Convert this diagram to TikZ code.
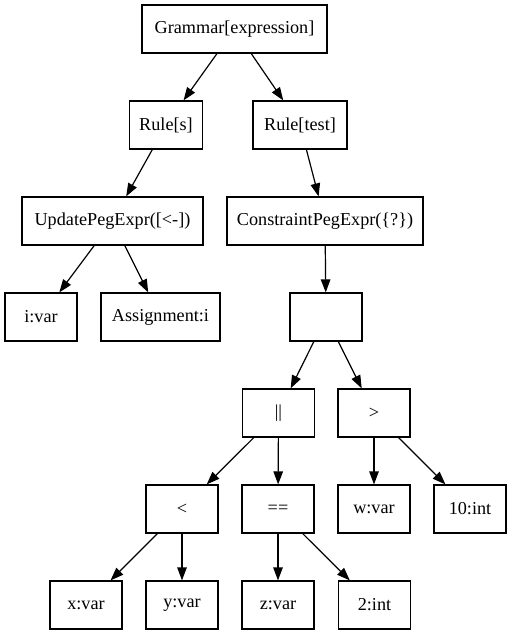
\documentclass[tikz,border=0pt]{standalone}
\usepackage{fontspec}
\setmainfont{Liberation Serif}
\usepackage{tikz}
\usetikzlibrary{arrows.meta,positioning,calc}

\tikzset{
  tnode/.style={draw,line width=1.2pt,rectangle,minimum width=72pt,minimum height=48pt,inner xsep=10pt,
    font=\fontsize{18.2}{20}\selectfont},
  tedge/.style={line width=1.2pt,-{Triangle[length=13pt,width=9.5pt]}}
}

\begin{document}
\begin{tikzpicture}[x=1pt,y=-1pt]
\useasboundingbox (0,0) rectangle (512,635);
% top rows
\node[tnode,minimum width=185pt] (gram) at (234.5,29) {Grammar[expression]};
\node[tnode] (rules) at (166,125) {Rule[s]};
\node[tnode,minimum width=94pt] (ruletest) at (300,125) {Rule[test]};
\node[tnode,minimum width=181pt] (update) at (112.5,221) {UpdatePegExpr([<-])};
\node[tnode,minimum width=194pt] (constraint) at (325,221) {ConstraintPegExpr(\{?\})};
\node[tnode] (ivar) at (41,317) {i:var};
\node[tnode,minimum width=119pt] (assign) at (160.5,317) {Assignment:i};
\node[tnode] (seq) at (326,317) {};
% operators
\node[tnode] (orop) at (278.5,413) {||};
\node[tnode] (gtop) at (374,413) {>};
\node[tnode] (ltop) at (182,509) {<};
\node[tnode] (eqop) at (278,509) {==};
\node[tnode] (wvar) at (374,509) {w:var};
\node[tnode] (tenint) at (470,509) {10:int};
% leaves
\node[tnode] (xvar) at (86,605) {x:var};
\node[tnode] (yvar) at (182,605) {y:var};
\node[tnode] (zvar) at (278,605) {z:var};
\node[tnode] (twoint) at (374.5,605) {2:int};

\draw[tedge] (gram) -- (rules);
\draw[tedge] (gram) -- (ruletest);
\draw[tedge] (rules) -- (update);
\draw[tedge] (ruletest) -- (constraint);
\draw[tedge] (update) -- (ivar);
\draw[tedge] (update) -- (assign);
\draw[tedge] (constraint) -- (seq);
\draw[tedge] (seq) -- (orop);
\draw[tedge] (seq) -- (gtop);
\draw[tedge] (orop) -- (ltop);
\draw[tedge] (orop) -- (eqop);
\draw[tedge] (gtop) -- (wvar);
\draw[tedge] (gtop) -- (tenint);
\draw[tedge] (ltop) -- (xvar);
\draw[tedge] (ltop) -- (yvar);
\draw[tedge] (eqop) -- (zvar);
\draw[tedge] (eqop) -- (twoint);
\end{tikzpicture}
\end{document}
